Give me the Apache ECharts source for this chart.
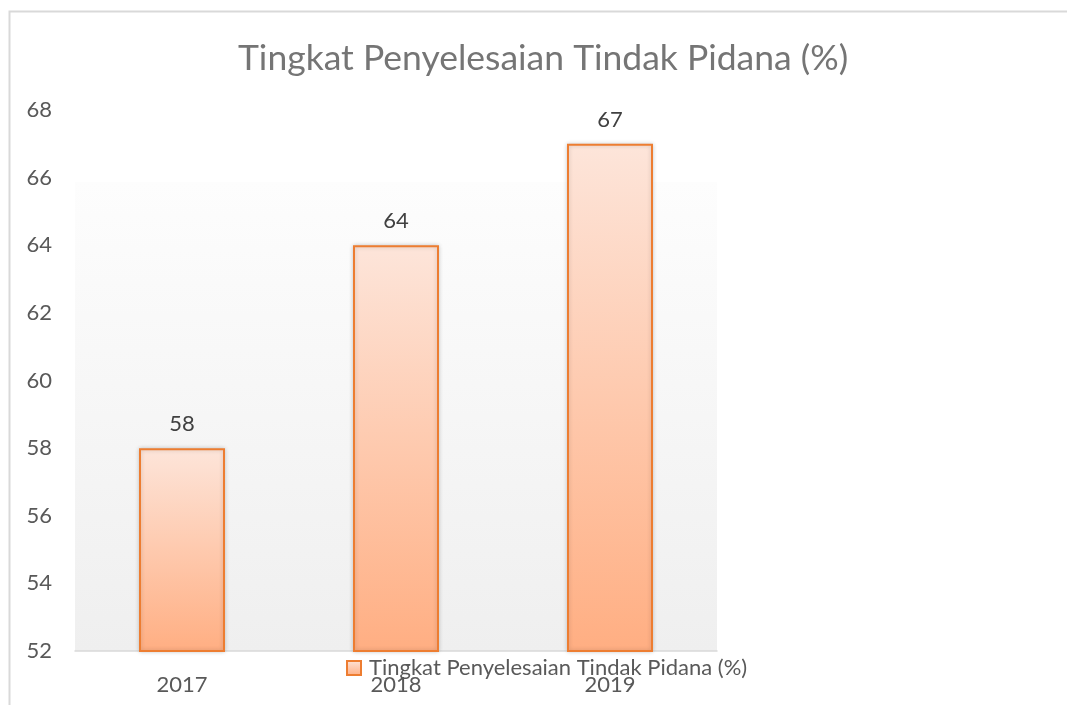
<!DOCTYPE html>
<html>
<head>
<meta charset="utf-8">
<script src="https://cdn.jsdelivr.net/npm/echarts@6/dist/echarts.min.js"></script>
<style>
html, body { margin: 0; padding: 0; background: #fff; }
#chart { width: 1067px; height: 705px; }
</style>
</head>
<body>
<div id="chart"></div>
<script>
var years = ['2017', '2018', '2019']
var rates = [58, 64, 67]
var seriesName = 'Tingkat Penyelesaian Tindak Pidana (%)'

var font = 'Lato'
var barFill = new echarts.graphic.LinearGradient(0, 0, 0, 1, [
    { offset: 0, color: '#fde5da' },
    { offset: 1, color: '#ffae82' }
])

var chart = echarts.init(document.getElementById('chart'))
chart.setOption({
    animation: false,
    textStyle: { fontFamily: font },
    title: {
        text: seriesName,
        left: 233,
        top: 36,
        textStyle: { fontFamily: font, fontSize: 35.5, fontWeight: 'normal', color: '#757575' }
    },
    // outer chart frame
    graphic: [{
        type: 'rect',
        silent: true,
        shape: { x: 9.5, y: 11.5, width: 1200, height: 900 },
        style: { fill: null, stroke: '#d9d9d9', lineWidth: 2 }
    }],
    legend: {
        left: 341,
        top: 652,
        icon: 'rect',
        itemWidth: 14,
        itemHeight: 14,
        itemGap: 6,
        textStyle: { fontFamily: font, fontSize: 22, color: '#595959', padding: [0, 0, 0, 3] },
        data: [seriesName]
    },
    grid: {
        left: 75,
        right: 350,
        top: 110,
        bottom: 54,
        show: true,
        borderWidth: 0,
        backgroundColor: new echarts.graphic.LinearGradient(0, 0, 0, 1, [
            { offset: 0, color: '#ffffff' },
            { offset: 0.133, color: '#ffffff' },
            { offset: 0.134, color: '#fdfdfd' },
            { offset: 1, color: '#efefef' }
        ])
    },
    xAxis: {
        type: 'category',
        data: years,
        axisLine: { lineStyle: { color: '#d9d9d9', width: 1.5 } },
        axisTick: { show: false },
        axisLabel: { fontFamily: font, fontSize: 22, color: '#595959', margin: 23 }
    },
    yAxis: {
        type: 'value',
        min: 52,
        max: 68,
        interval: 2,
        axisLine: { show: false },
        axisTick: { show: false },
        splitLine: { show: false },
        axisLabel: { fontFamily: font, fontSize: 22, color: '#595959', margin: 23 }
    },
    series: [{
        name: seriesName,
        type: 'bar',
        data: rates,
        barWidth: 86,
        itemStyle: {
            color: barFill,
            borderColor: '#ed7d31',
            borderWidth: 2,
            shadowBlur: 4,
            shadowColor: 'rgba(0,0,0,0.18)'
        },
        label: {
            show: true,
            position: 'top',
            distance: 13,
            fontFamily: font,
            fontSize: 22,
            color: '#404040'
        }
    }]
})
</script>
</body>
</html>
